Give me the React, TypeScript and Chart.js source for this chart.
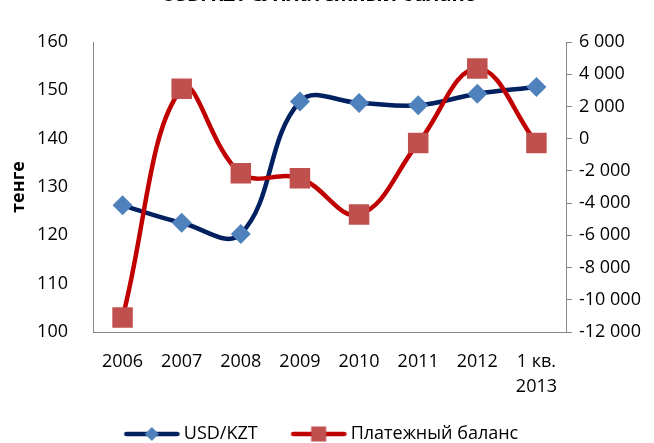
import React, { useEffect, useRef } from 'react';
import { Chart, registerables } from 'chart.js';

Chart.register(...registerables);

const chartTitle = 'USD/KZT & Платежный баланс';
const yAxisTitle = 'тенге';
const categories: (string | string[])[] = ['2006', '2007', '2008', '2009', '2010', '2011', '2012', ['1 кв.', '2013']];
const seriesNames = ['USD/KZT', 'Платежный баланс'];
const usdKzt = [126.2, 122.6, 120.3, 147.7, 147.4, 146.9, 149.3, 150.7];
const balance = [-11100, 3100, -2150, -2450, -4700, -270, 4350, -270];
const leftMin = 100;
const leftMax = 160;
const leftStep = 10;
const rightMin = -12000;
const rightMax = 6000;
const rightStep = 2000;

const FONT = "'Open Sans', sans-serif";
const AXIS_GRAY = '#868686';
const BLUE_LINE = '#002060';
const BLUE_MARK = '#4F81BD';
const RED_LINE = '#C00000';
const RED_MARK = '#C0504D';

const CANVAS_W = 654;
const CANVAS_H = 470;
const CANVAS_TOP = -17;

function fmtThousands(v: number): string {
  const s = String(Math.abs(Math.round(v))).replace(/\B(?=(\d{3})+(?!\d))/g, ' ');
  return (v < 0 ? '-' : '') + s;
}

// legend glyph: transparent margin on the left so the visible part sits right of the box centre
function legendIcon(line: string, marker: string, shape: 'diamond' | 'square'): HTMLCanvasElement {
  const c = document.createElement('canvas');
  const off = 11;
  c.width = 67;
  c.height = 20;
  const ctx = c.getContext('2d')!;
  ctx.strokeStyle = line;
  ctx.lineWidth = 4.5;
  ctx.lineCap = 'round';
  ctx.beginPath();
  ctx.moveTo(off + 2.5, 10);
  ctx.lineTo(off + 53.5, 10);
  ctx.stroke();
  ctx.fillStyle = marker;
  if (shape === 'diamond') {
    ctx.beginPath();
    ctx.moveTo(off + 21, 10);
    ctx.lineTo(off + 28, 3);
    ctx.lineTo(off + 35, 10);
    ctx.lineTo(off + 28, 17);
    ctx.closePath();
    ctx.fill();
  } else {
    ctx.fillRect(off + 20.5, 2.5, 15, 15);
  }
  return c;
}

export default function App() {
  const ref = useRef<HTMLCanvasElement | null>(null);

  useEffect(() => {
    if (!ref.current) return;
    const icons = [legendIcon(BLUE_LINE, BLUE_MARK, 'diamond'), legendIcon(RED_LINE, RED_MARK, 'square')];
    const chart = new Chart(ref.current, {
      type: 'line',
      data: {
        labels: categories as any,
        datasets: [
          {
            label: seriesNames[0],
            data: usdKzt,
            yAxisID: 'y',
            borderColor: BLUE_LINE,
            backgroundColor: BLUE_MARK,
            borderWidth: 4.5,
            pointStyle: 'rectRot',
            pointRadius: 10,
            pointHoverRadius: 10,
            pointBackgroundColor: BLUE_MARK,
            pointBorderColor: BLUE_MARK,
            pointBorderWidth: 0,
            tension: 0.4,
            fill: false,
            order: 1,
          },
          {
            label: seriesNames[1],
            data: balance,
            yAxisID: 'y2',
            borderColor: RED_LINE,
            backgroundColor: RED_MARK,
            borderWidth: 4.5,
            pointStyle: 'rect',
            pointRadius: 14.5,
            pointHoverRadius: 14.5,
            pointBackgroundColor: RED_MARK,
            pointBorderColor: RED_MARK,
            pointBorderWidth: 0,
            tension: 0.4,
            fill: false,
            order: 0,
          },
        ],
      },
      options: {
        responsive: false,
        animation: false,
        layout: { padding: { left: -10, right: 8, top: 0, bottom: 0 } },
        plugins: {
          tooltip: { enabled: false },
          title: {
            display: true,
            text: chartTitle,
            color: '#000',
            font: { family: FONT, size: 20, weight: 'bold', lineHeight: 1.2 },
            padding: { top: 0, bottom: 35 },
          },
          legend: {
            position: 'bottom',
            labels: {
              usePointStyle: true,
              pointStyleWidth: 57,
              padding: 27,
              color: '#000',
              font: { family: FONT, size: 18 },
              sort: (a: any, b: any) => a.datasetIndex - b.datasetIndex,
              generateLabels: (ch: any) => {
                const items = (Chart.defaults.plugins.legend.labels.generateLabels as any)(ch);
                return items.map((it: any) => ({ ...it, pointStyle: icons[it.datasetIndex], rotation: 0 }));
              },
            },
          },
        },
        scales: {
          x: {
            type: 'category',
            offset: true,
            grid: { display: false, drawTicks: false },
            border: { display: true, color: AXIS_GRAY, width: 1 },
            ticks: {
              color: '#000',
              font: { family: FONT, size: 18, lineHeight: 1.35 },
              padding: 18,
              maxRotation: 0,
              autoSkip: false,
            },
            afterFit: (s: any) => {
              s.height = 66;
            },
          },
          y: {
            position: 'left',
            min: leftMin,
            max: leftMax,
            grid: { display: false, drawTicks: false },
            border: { display: true, color: AXIS_GRAY, width: 1 },
            ticks: {
              stepSize: leftStep,
              color: '#000',
              font: { family: FONT, size: 18 },
              padding: 25,
            },
            title: {
              display: true,
              text: yAxisTitle,
              color: '#000',
              font: { family: FONT, size: 18, weight: 'bold', lineHeight: 1.2 },
              padding: { top: 18.2, bottom: 0 },
            },
            afterFit: (s: any) => {
              s.width = 103;
            },
          },
          y2: {
            position: 'right',
            min: rightMin,
            max: rightMax,
            grid: { display: true, drawOnChartArea: false, drawTicks: true, tickLength: 6, color: AXIS_GRAY, lineWidth: 1 },
            border: { display: true, color: AXIS_GRAY, width: 1 },
            ticks: {
              stepSize: rightStep,
              color: '#000',
              font: { family: FONT, size: 18 },
              padding: 7,
              callback: (v: any) => fmtThousands(Number(v)),
            },
            afterFit: (s: any) => {
              s.width = 80;
            },
          },
        },
      },
    });
    return () => chart.destroy();
  }, []);

  return (
    <div style={{ position: 'fixed', left: 0, top: 0, width: CANVAS_W, height: 443, overflow: 'hidden', background: '#fff' }}>
      <canvas
        ref={ref}
        width={CANVAS_W}
        height={CANVAS_H}
        style={{ position: 'absolute', left: 0, top: CANVAS_TOP, width: CANVAS_W, height: CANVAS_H }}
      />
    </div>
  );
}
